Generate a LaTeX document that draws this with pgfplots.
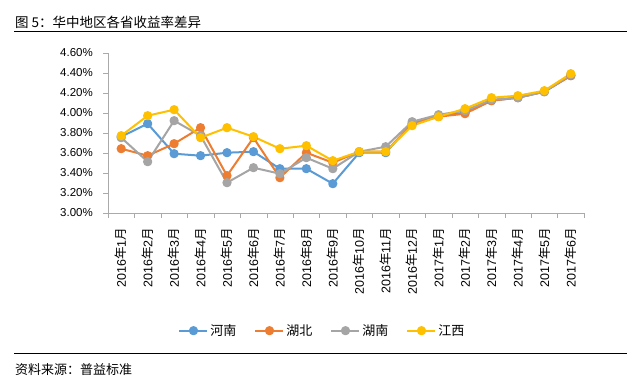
\documentclass[border=0pt]{standalone}
\usepackage{pgfplots}
\pgfplotsset{compat=1.18}
\usepackage{fontspec}
\setmainfont{Liberation Sans}
\newfontfamily\cjk{Noto Sans CJK SC}
\definecolor{cblue}{RGB}{91,155,213}
\definecolor{corange}{RGB}{237,125,49}
\definecolor{cgray}{RGB}{165,165,165}
\definecolor{cyellow}{RGB}{255,192,0}
\definecolor{axgray}{RGB}{170,170,170}
\newcommand\ym[2]{#1{\cjk 年}#2{\cjk 月}}
\begin{document}
\begin{tikzpicture}
\path[use as bounding box,fill=white] (0pt,0pt) rectangle (640pt,383pt);
\node[anchor=west,inner sep=0pt,font=\cjk\fontsize{13.5}{15}\selectfont] at (15pt,361pt) {图 5：华中地区各省收益率差异};
\draw[line width=1pt] (14pt,351pt) -- (627pt,351pt);
\draw[line width=1pt] (14pt,29pt) -- (627pt,29pt);
\node[anchor=west,inner sep=0pt,font=\cjk\fontsize{13}{15}\selectfont] at (15pt,13pt) {资料来源：普益标准};
\begin{axis}[
  at={(108pt,170.3pt)}, anchor=south west,
  scale only axis, width=476pt, height=160pt,
  xmin=0.5, xmax=18.5, ymin=3.0, ymax=4.6,
  axis x line=bottom, axis y line=left,
  axis line style={draw=axgray,-},
  tick align=outside,
  xtick={0.5,1.5,...,18.5}, xticklabels={},
  major tick length=5pt,
  xtick style={draw=axgray},
  ytick style={draw=axgray},
  extra x ticks={1,...,18},
  extra x tick style={major tick length=0pt},
  extra x tick labels={\ym{2016}{1},\ym{2016}{2},\ym{2016}{3},\ym{2016}{4},\ym{2016}{5},\ym{2016}{6},\ym{2016}{7},\ym{2016}{8},\ym{2016}{9},\ym{2016}{10},\ym{2016}{11},\ym{2016}{12},\ym{2017}{1},\ym{2017}{2},\ym{2017}{3},\ym{2017}{4},\ym{2017}{5},\ym{2017}{6}},
  xticklabel style={rotate=90, anchor=east, inner sep=0pt, font=\fontsize{12.5}{13}\selectfont, xshift=-15pt},
  ytick={3.0,3.2,...,4.61},
  yticklabels={3.00\%,3.20\%,3.40\%,3.60\%,3.80\%,4.00\%,4.20\%,4.40\%,4.60\%},
  yticklabel style={font=\fontsize{11.5}{13}\selectfont, inner sep=0pt, xshift=-10pt},
  legend columns=4,
  legend style={at={(0.4506,-0.7375)}, anchor=center, draw=none, fill=none,
    font=\cjk\fontsize{13}{15}\selectfont, inner sep=0pt,
    /tikz/every even column/.append style={column sep=16pt}},
  legend image code/.code={\draw[#1,mark repeat=2,mark phase=2] plot coordinates {(0pt,0pt) (14pt,0pt) (28pt,0pt)};},
  every axis plot/.append style={line width=2pt, mark=*, mark size=3.6pt, line join=round},
  clip=false,
]
\addplot[color=cblue, mark options={fill=cblue, draw=cblue}] coordinates {
(1,3.76)(2,3.89)(3,3.59)(4,3.57)(5,3.60)(6,3.61)(7,3.44)(8,3.44)(9,3.29)(10,3.60)(11,3.60)(12,3.89)(13,3.97)(14,4.00)(15,4.12)(16,4.15)(17,4.21)(18,4.37)};
\addlegendentry{河南}
\addplot[color=corange, mark options={fill=corange, draw=corange}] coordinates {
(1,3.64)(2,3.57)(3,3.69)(4,3.85)(5,3.37)(6,3.75)(7,3.35)(8,3.60)(9,3.50)(10,3.61)(11,3.61)(12,3.89)(13,3.96)(14,3.99)(15,4.12)(16,4.15)(17,4.21)(18,4.37)};
\addlegendentry{湖北}
\addplot[color=cgray, mark options={fill=cgray, draw=cgray}] coordinates {
(1,3.75)(2,3.51)(3,3.92)(4,3.77)(5,3.30)(6,3.45)(7,3.39)(8,3.55)(9,3.44)(10,3.61)(11,3.66)(12,3.91)(13,3.98)(14,4.02)(15,4.13)(16,4.15)(17,4.21)(18,4.38)};
\addlegendentry{湖南}
\addplot[color=cyellow, mark options={fill=cyellow, draw=cyellow}] coordinates {
(1,3.77)(2,3.97)(3,4.03)(4,3.75)(5,3.85)(6,3.76)(7,3.64)(8,3.67)(9,3.52)(10,3.61)(11,3.61)(12,3.87)(13,3.96)(14,4.04)(15,4.15)(16,4.17)(17,4.22)(18,4.39)};
\addlegendentry{江西}
\end{axis}
\end{tikzpicture}
\end{document}
